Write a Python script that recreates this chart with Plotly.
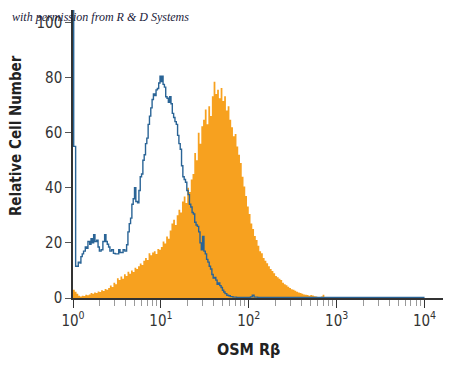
import plotly.graph_objects as go

# Isotype control (blue outline): log10 intensity bin starts and counts
blue_log = [0.000, 0.008, 0.030, 0.050, 0.060, 0.080, 0.090, 0.105, 0.120, 0.140,
            0.155, 0.170, 0.190, 0.205, 0.220, 0.235, 0.250, 0.270, 0.285, 0.300,
            0.320, 0.340, 0.360, 0.375, 0.390, 0.405, 0.420, 0.440, 0.460, 0.480,
            0.500, 0.520, 0.535, 0.550, 0.570, 0.590, 0.610, 0.625, 0.640, 0.655,
            0.670, 0.685, 0.700, 0.715, 0.735, 0.750, 0.765, 0.780, 0.795, 0.810,
            0.825, 0.840, 0.855, 0.870, 0.885, 0.900, 0.915, 0.930, 0.945, 0.960,
            0.975, 0.990, 1.000, 1.010, 1.025, 1.040, 1.055, 1.070, 1.085, 1.100,
            1.115, 1.130, 1.145, 1.160, 1.175, 1.190, 1.205, 1.220, 1.235, 1.250,
            1.265, 1.280, 1.295, 1.310, 1.325, 1.340, 1.355, 1.370, 1.385, 1.400,
            1.415, 1.430, 1.445, 1.460, 1.475, 1.490, 1.505, 1.520, 1.535, 1.550,
            1.565, 1.580, 1.595, 1.610, 1.625, 1.640, 1.655, 1.670, 1.685, 1.700,
            1.715, 1.730, 1.750, 1.770, 1.790, 1.820, 1.860, 1.900, 1.950, 2.020,
            2.040, 2.060, 2.100, 2.200, 4.000]
blue_counts = [130, 55, 11.5, 11.5, 13, 12.7, 15, 16, 17, 18.5,
               18, 20.5, 19.5, 21.5, 20, 23, 20.5, 21, 18.5, 17,
               17.5, 20.5, 23, 20.5, 19.5, 18.5, 17, 17.5, 16.2, 16,
               16, 17.5, 16.5, 16.5, 17.5, 17, 19.3, 24, 27, 29,
               34, 36, 40, 35, 34.5, 39, 44, 45, 50, 52,
               56, 58, 63, 66, 69, 72, 74, 73.5, 75.5, 76,
               78, 80.5, 78.5, 80.5, 77.5, 76.5, 73, 72.5, 71, 73,
               70.5, 67, 65.5, 64, 63, 59, 56, 54, 48, 44,
               43, 42, 39, 37.5, 34, 33, 31, 30.5, 27.5, 26.5,
               26, 24, 20, 17.5, 22.3, 17, 16, 14, 13, 11.5,
               10.5, 8.5, 7.2, 7.5, 6.5, 5, 5.5, 4.5, 3.8, 2.8,
               2.2, 1.6, 1.0, 0.8, 0.5, 0.3, 0.2, 0.2, 0.2, 0.4,
               1.0, 0.3, 0.2, 0.2, 0.2]

# OSM R-beta stained cells (orange filled): counts per 0.02-decade bin from 10^0
orange_counts = [3.0, 2.3, 1.5, 0.8, 0.5, 0.8, 0.7, 1.2, 1.0, 1.3,
                 1.8, 1.5, 2.0, 1.8, 2.4, 2.2, 2.8, 2.5, 3.3, 3.0,
                 3.6, 4.5, 4.0, 5.5, 5.0, 7.2, 6.5, 7.8, 7.0, 8.6,
                 8.0, 9.5, 8.8, 10.0, 9.4, 11.0, 10.5, 11.5, 12.5, 12.0,
                 13.5, 14.5, 13.8, 16.2, 15.5, 16.5, 17.0, 16.0, 17.8, 17.5,
                 18.5, 20.5, 19.8, 22.3, 21.5, 24.5, 27.0, 28.4, 26.5, 30.0,
                 32.0, 31.0, 35.0, 36.8, 34.5, 40.0, 38.5, 43.0, 45.0, 52.6,
                 50.0, 60.0, 56.0, 62.3, 64.7, 68.4, 63.0, 69.6, 66.0, 73.2,
                 78.5, 74.0, 75.6, 72.5, 76.2, 71.5, 73.2, 68.0, 69.6, 64.7,
                 62.0, 58.7, 59.5, 55.0, 52.0, 49.0, 44.0, 40.5, 37.0, 33.2,
                 30.5, 27.0, 25.0, 22.5, 21.0, 19.0, 17.0, 16.2, 14.5, 13.5,
                 12.6, 11.5, 10.5, 9.8, 9.0, 8.0, 7.5, 7.0, 6.5, 5.5,
                 5.0, 4.6, 4.1, 3.6, 3.2, 3.0, 2.6, 2.3, 2.0, 1.8,
                 1.5, 1.3, 1.2, 1.1, 0.8, 1.1, 0.9, 0.6, 0.5, 0.4,
                 0.4, 0.5, 1.2, 0.3, 0.1, 0.0]
orange_log = [round(0.02 * i, 2) for i in range(len(orange_counts))]

y_ticks = [0, 20, 40, 60, 80, 100]
x_ticks = [1, 10, 100, 1000, 10000]
x_ticklabels = ["10<sup>0</sup>", "10<sup>1</sup>", "10<sup>2</sup>",
                "10<sup>3</sup>", "10<sup>4</sup>"]
minor_ticks = [m * d for d in [1, 10, 100, 1000] for m in range(2, 10)]

NARROW = "DejaVu Sans Condensed, DejaVu Sans, sans-serif"

fig = go.Figure()
fig.add_trace(go.Scatter(
    x=[10 ** v for v in orange_log], y=orange_counts,
    mode="lines", line=dict(shape="hv", width=0, color="#F7A11F"),
    fill="tozeroy", fillcolor="#F7A11F", hoverinfo="skip", showlegend=False))
fig.add_trace(go.Scatter(
    x=[10 ** v for v in blue_log], y=blue_counts,
    mode="lines", line=dict(shape="hv", width=1.4, color="#2A6496"),
    hoverinfo="skip", showlegend=False))

tick_font = dict(size=15, family=NARROW, color="#333333")
title_font = dict(family=NARROW, color="#222222")

fig.update_layout(
    width=450, height=367,
    margin=dict(l=73, r=7, t=10, b=69, autoexpand=False),
    paper_bgcolor="white", plot_bgcolor="white",
    font=dict(family=NARROW, color="#333333"),
    xaxis=dict(
        type="log", range=[0, 4.21], automargin=False,
        showline=True, linecolor="#333333", linewidth=1.5,
        showgrid=False, zeroline=False,
        tickmode="array", tickvals=x_ticks, ticktext=x_ticklabels,
        ticks="outside", ticklen=8, tickwidth=1.2, tickcolor="#333333",
        tickfont=tick_font,
        minor=dict(tickmode="array", tickvals=minor_ticks, ticks="outside",
                   ticklen=6, tickwidth=1, tickcolor="#9a9a9a", showgrid=False),
    ),
    yaxis=dict(
        range=[0, 104.5], automargin=False,
        showline=True, linecolor="#333333", linewidth=1.5,
        showgrid=False, zeroline=False,
        tickmode="array", tickvals=y_ticks,
        ticks="outside", ticklen=6, tickwidth=1, tickcolor="#555555",
        tickfont=tick_font,
    ),
    annotations=[
        dict(text="<b>OSM Rβ</b>", xref="paper", yref="paper",
             x=0.475, y=-0.18, xanchor="center", yanchor="middle",
             showarrow=False, font=dict(size=16, **title_font)),
        dict(text="<b>Relative Cell Number</b>", xref="paper", yref="paper",
             x=-0.154, y=0.5625, xanchor="center", yanchor="middle", textangle=-90,
             showarrow=False, font=dict(size=15, **title_font)),
        dict(text="<i>with permission from R &amp; D Systems</i>", xref="paper", yref="paper",
             x=-0.17, y=0.976, xanchor="left", yanchor="middle",
             showarrow=False, font=dict(size=12, family="Liberation Serif, DejaVu Serif, serif",
                                        color="#1a1a3a")),
    ],
)

fig.write_html("out.html", config={"displayModeBar": False},
               post_script="document.body.style.margin='0px';")
